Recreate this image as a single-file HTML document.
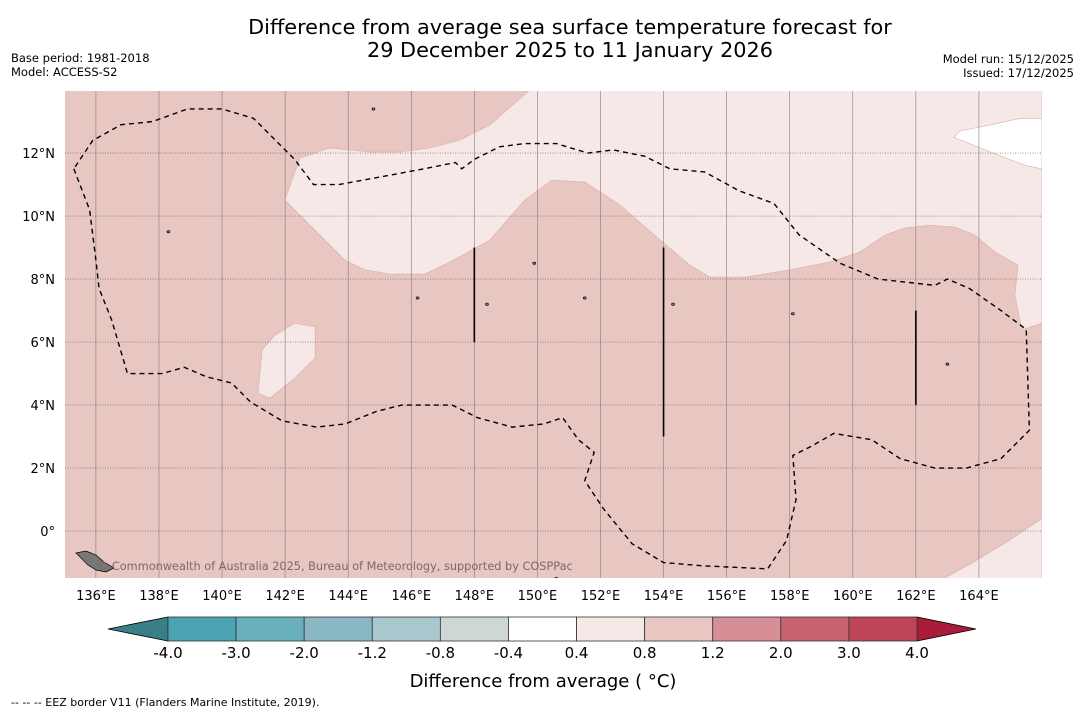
<!DOCTYPE html>
<html><head><meta charset="utf-8"><style>
body{margin:0;background:#fff;font-family:"Liberation Sans","DejaVu Sans",sans-serif;}
svg text{font-family:"DejaVu Sans","Liberation Sans",sans-serif;}
</style></head><body>
<svg id="c" width="1085" height="713" xmlns="http://www.w3.org/2000/svg">
<text x="570" y="34" font-size="20.8" text-anchor="middle">Difference from average sea surface temperature forecast for</text>
<text x="570" y="57" font-size="20.8" text-anchor="middle">29 December 2025 to 11 January 2026</text>
<text x="11" y="62" font-size="11.5">Base period: 1981-2018</text>
<text x="11" y="76" font-size="11.5">Model: ACCESS-S2</text>
<text x="1074" y="63" font-size="11.5" text-anchor="end">Model run: 15/12/2025</text>
<text x="1074" y="77" font-size="11.5" text-anchor="end">Issued: 17/12/2025</text>
<g id="map"></g>
<g id="cbar"></g>
<text x="543" y="687" font-size="18" text-anchor="middle">Difference from average ( °C)</text>
<text x="11" y="706" font-size="11">--  --  -- EEZ border V11 (Flanders Marine Institute, 2019).</text>
</svg>
<script>
const lonTicks=[136,138,140,142,144,146,148,150,152,154,156,158,160,162,164];
const latTicks=[0,2,4,6,8,10,12];
const levels=["-4.0","-3.0","-2.0","-1.2","-0.8","-0.4","0.4","0.8","1.2","2.0","3.0","4.0"];
const levelColors=["#4aa3b2","#6aafbd","#89b8c4","#a9c8cd","#cfd6d6","#ffffff","#f5e8e6","#e8c6c2","#d68f96","#c7636e","#be4555"];
const lowExtendColor="#387f88", highExtendColor="#a81c3a";
const lightRegion=[[149.76,14],[148.49,12.89],[147.54,12.41],[146.59,12.16],[145.64,12.03],[144.69,12.03],[143.42,12.16],[142.47,11.84],[141.99,10.51],[142.47,10.03],[143.26,9.24],[143.9,8.6],[144.53,8.29],[145.32,8.16],[146.43,8.16],[147.23,8.54],[148.49,9.24],[149.6,10.51],[150.46,11.14],[151.51,11.08],[152.62,10.35],[153.89,9.24],[154.84,8.44],[155.47,8.06],[156.58,8.06],[158.01,8.29],[159.27,8.54],[160.23,8.86],[161.02,9.4],[161.65,9.62],[162.45,9.71],[163.24,9.65],[163.87,9.4],[164.51,8.86],[165.24,8.44],[165.14,7.49],[165.36,6.38],[166,6.6],[166,14]];
const whiteRegion=[[166,13.1],[165.3,13.1],[164.4,12.9],[163.4,12.7],[163.2,12.5],[164.2,12.1],[164.7,11.9],[165.5,11.6],[166,11.5]];
const blobRegion=[[141.14,4.38],[141.27,5.75],[141.68,6.22],[142.31,6.6],[142.95,6.48],[142.95,5.49],[142.31,4.86],[141.52,4.22]];
const seRegion=[[162.9,-1.5],[163.8,-1.0],[164.8,-0.4],[166,0.4],[166,-1.5]];
const eez=[[135.3,11.5],[135.8,10.2],[136,8.6],[136.1,7.7],[136.5,6.7],[137,5.0],[138.1,5.0],[138.8,5.2],[139.5,4.9],[140.3,4.7],[140.9,4.1],[141.9,3.5],[143,3.3],[143.9,3.4],[144.9,3.8],[145.7,4.0],[147.3,4.0],[148.1,3.6],[149.2,3.3],[150.2,3.4],[150.8,3.6],[151.3,2.9],[151.8,2.5],[151.5,1.6],[152.1,0.7],[153,-0.4],[154,-1.0],[155.2,-1.1],[157.3,-1.2],[157.9,-0.3],[158.2,1.0],[158.1,2.4],[158.7,2.7],[159.4,3.1],[160.6,2.9],[161.5,2.3],[162.6,2.0],[163.6,2.0],[164.7,2.3],[165.6,3.2],[165.5,6.4],[164.7,7.0],[163.7,7.7],[163,8.0],[162.6,7.8],[160.8,8.0],[159.6,8.5],[158.3,9.4],[157.5,10.4],[156.4,10.8],[155.3,11.4],[154.2,11.5],[153.4,11.9],[152.4,12.1],[151.6,12.0],[150.6,12.3],[149.6,12.3],[148.8,12.2],[148,11.8],[147.6,11.5],[147.4,11.7],[146.4,11.5],[144.8,11.2],[143.7,11.0],[142.9,11.0],[142.3,11.8],[141,13.1],[140,13.4],[138.9,13.4],[137.8,13.0],[136.8,12.9],[135.9,12.4],[135.3,11.5]];
const barLines=[[148,9,6],[154,9,3],[162,7,4]];
const islands=[[144.8,13.4],[138.3,9.5],[151.5,7.4],[158.1,6.9],[163,5.3],[150.6,-1.5],[149.9,8.5],[146.2,7.4],[148.4,7.2],[154.3,7.2]];

const NS="http://www.w3.org/2000/svg";
const X0=65,X1=1042,Y0=91,Y1=578;
const lonMin=135.02,lonMax=166.0,latMin=-1.49,latMax=13.97;
const xs=l=>X0+(l-lonMin)/(lonMax-lonMin)*(X1-X0);
const ys=l=>Y1-(l-latMin)/(latMax-latMin)*(Y1-Y0);
function mk(tag,attrs,parent){const e=document.createElementNS(NS,tag);for(const k in attrs)e.setAttribute(k,attrs[k]);parent.appendChild(e);return e;}
const map=document.getElementById('map');
const defs=mk('defs',{},map);const cp=mk('clipPath',{id:'clip'},defs);mk('rect',{x:X0,y:Y0,width:X1-X0,height:Y1-Y0},cp);
const bg=mk('rect',{x:X0,y:Y0,width:X1-X0,height:Y1-Y0,fill:levelColors[7]},map);


const g=mk('g',{'clip-path':'url(#clip)'},map);
function poly(pts,fill,name){const p=mk('polygon',{points:pts.map(q=>xs(q[0])+','+ys(q[1])).join(' '),fill:fill,stroke:'#d8b0ac','stroke-width':0.6},g);

}
poly(lightRegion,levelColors[6],'anomaly-region-0.4-0.8');
poly(whiteRegion,levelColors[5],'anomaly-region-near-zero');
poly(blobRegion,levelColors[6],'anomaly-region-small');
poly(seRegion,levelColors[6],'anomaly-region-southeast');
lonTicks.forEach(l=>{const ln=mk('line',{x1:xs(l),x2:xs(l),y1:Y0,y2:Y1,stroke:'#8a7a78','stroke-width':0.6},g);


const t=mk('text',{x:xs(l),y:600,'font-size':13,'text-anchor':'middle'},map);t.textContent=l+'°E';

});
latTicks.forEach(l=>{const ln=mk('line',{x1:X0,x2:X1,y1:ys(l),y2:ys(l),stroke:'#6a5a58','stroke-width':0.7,'stroke-dasharray':'1,1.5'},g);


const t=mk('text',{x:55,y:ys(l)+5,'font-size':13,'text-anchor':'end'},map);t.textContent=l===0?'0°':l+'°N';

});
islands.forEach(p=>{const e=mk('ellipse',{cx:xs(p[0]),cy:ys(p[1]),rx:1.5,ry:1.2,fill:'#777',stroke:'#000','stroke-width':0.6},g);

});
const pn=mk('polygon',{points:'76,553 86,551 96,555 104,562 114,568 106,572 96,570 88,565',fill:'#777',stroke:'#000','stroke-width':0.7},g);


const ez=mk('polyline',{points:eez.map(q=>xs(q[0])+','+ys(q[1])).join(' '),fill:'none',stroke:'#000','stroke-width':1.4,'stroke-dasharray':'5,4'},g);


barLines.forEach(b=>{const ln=mk('line',{x1:xs(b[0]),x2:xs(b[0]),y1:ys(b[1]),y2:ys(b[2]),stroke:'#000','stroke-width':1.6},g);

});
const cr=mk('text',{x:97,y:570,'font-size':11.3,fill:'#7a6a68'},g);cr.textContent='© Commonwealth of Australia 2025, Bureau of Meteorology, supported by COSPPac';


const cb=document.getElementById('cbar');
const B0=168,B1=917,BY=617,BH=24,bw=(B1-B0)/levelColors.length;
const le=mk('polygon',{points:`108,629 ${B0},${BY} ${B0},${BY+BH}`,fill:lowExtendColor,stroke:'#000','stroke-width':0.8},cb);


const he=mk('polygon',{points:`976,629 ${B1},${BY} ${B1},${BY+BH}`,fill:highExtendColor,stroke:'#000','stroke-width':0.8},cb);


levelColors.forEach((c,i)=>{const r=mk('rect',{x:B0+i*bw,y:BY,width:bw,height:BH,fill:c,stroke:'#333','stroke-width':0.8},cb);

});
levels.forEach((s,i)=>{const t=mk('text',{x:B0+i*bw,y:658,'font-size':15,'text-anchor':'middle'},cb);t.textContent=s;

});
</script>
</body></html>
